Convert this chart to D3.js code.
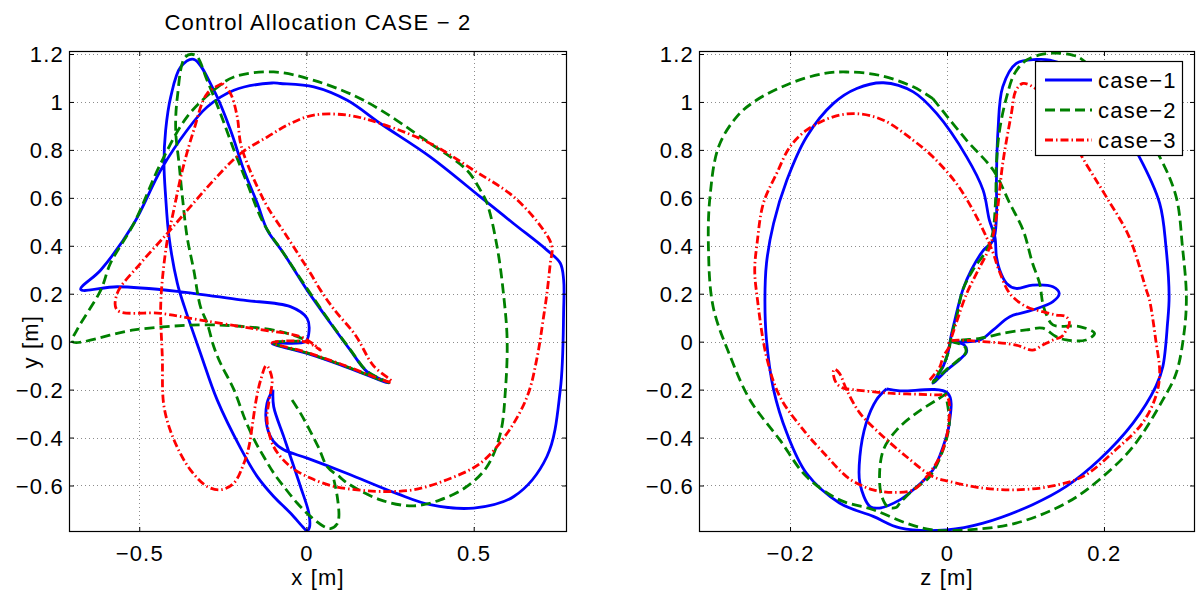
<!DOCTYPE html>
<html><head><meta charset="utf-8">
<script src="https://cdn.jsdelivr.net/npm/d3@7"></script>
<style>
body{margin:0;background:#fff}
text{font-family:"Liberation Sans",Arial,Helvetica,sans-serif;fill:#000;letter-spacing:1.2px}
</style>
</head><body><svg id="c" width="1199" height="596"></svg>
<script>
// ---------- tick values ----------
const yTicks = [-0.6,-0.4,-0.2,0,0.2,0.4,0.6,0.8,1,1.2];
const xTicksLeft = [-0.5,0,0.5];
const zTicksRight = [-0.2,0,0.2];
const seriesNames = ["case\u22121","case\u22122","case\u22123"];

// ---------- left panel: x vs y ----------
const case1XY = [[-0.100,-0.200],[-0.118,-0.257],[-0.118,-0.354],[-0.098,-0.417],[-0.068,-0.451],[0.002,-0.486],[0.122,-0.550],[0.271,-0.634],[0.370,-0.680],[0.500,-0.694],[0.620,-0.646],[0.719,-0.479],[0.759,-0.200],[0.769,0.132],[0.769,0.257],[0.759,0.327],[0.719,0.382],[0.619,0.493],[0.520,0.604],[0.370,0.771],[0.221,0.910],[0.122,1.007],[0.022,1.063],[-0.078,1.077],[-0.103,1.079],[-0.217,1.049],[-0.297,0.979],[-0.357,0.882],[-0.436,0.715],[-0.516,0.493],[-0.615,0.299],[-0.675,0.218],[-0.566,0.229],[-0.386,0.210],[-0.197,0.174],[-0.048,0.146],[0.002,0.097],[0.007,0.035],[-0.003,0.000],[-0.103,-0.007],[0.002,-0.049],[0.102,-0.097],[0.246,-0.173],[0.181,-0.125],[0.131,-0.035],[0.072,0.077],[0.002,0.215],[-0.068,0.368],[-0.117,0.465],[-0.147,0.577],[-0.187,0.715],[-0.227,0.882],[-0.277,1.049],[-0.337,1.178],[-0.376,1.146],[-0.406,1.020],[-0.421,0.882],[-0.426,0.743],[-0.421,0.604],[-0.411,0.438],[-0.386,0.243],[-0.365,0.146],[-0.317,-0.048],[-0.267,-0.243],[-0.197,-0.444],[-0.147,-0.563],[-0.098,-0.646],[-0.048,-0.715],[-0.008,-0.777],[0.002,-0.790],[0.009,-0.775],[0.007,-0.715],[-0.018,-0.604],[-0.048,-0.479],[-0.068,-0.396],[-0.098,-0.271],[-0.100,-0.200]];

const case2XY = [[-0.043,-0.243],[-0.018,-0.298],[0.012,-0.375],[0.037,-0.444],[0.062,-0.521],[0.100,-0.565],[0.122,-0.590],[0.221,-0.660],[0.320,-0.685],[0.400,-0.660],[0.480,-0.604],[0.540,-0.521],[0.580,-0.382],[0.595,-0.200],[0.600,0.007],[0.590,0.188],[0.570,0.396],[0.540,0.577],[0.520,0.632],[0.480,0.715],[0.370,0.827],[0.171,1.007],[0.022,1.090],[-0.098,1.125],[-0.217,1.104],[-0.277,1.049],[-0.357,0.938],[-0.436,0.743],[-0.516,0.493],[-0.586,0.327],[-0.615,0.215],[-0.686,0.049],[-0.700,0.000],[-0.516,0.049],[-0.317,0.070],[-0.187,0.063],[-0.078,0.042],[-0.008,0.007],[-0.103,-0.004],[0.002,-0.047],[0.102,-0.095],[0.246,-0.171],[0.181,-0.123],[0.131,-0.033],[0.072,0.079],[0.005,0.215],[-0.068,0.368],[-0.128,0.493],[-0.177,0.660],[-0.217,0.800],[-0.257,0.951],[-0.297,1.090],[-0.332,1.195],[-0.362,1.188],[-0.386,1.020],[-0.391,0.882],[-0.381,0.743],[-0.371,0.604],[-0.357,0.438],[-0.337,0.299],[-0.317,0.146],[-0.297,0.077],[-0.277,-0.021],[-0.257,-0.090],[-0.217,-0.200],[-0.182,-0.330],[-0.152,-0.420],[-0.128,-0.479],[-0.098,-0.548],[-0.068,-0.604],[-0.028,-0.673],[0.012,-0.729],[0.052,-0.771],[0.072,-0.780],[0.092,-0.760],[0.097,-0.729],[0.092,-0.646],[0.082,-0.576]];

const case3XY = [[-0.252,1.077],[-0.297,1.035],[-0.337,0.882],[-0.371,0.715],[-0.401,0.521],[-0.416,0.424],[-0.431,0.257],[-0.436,0.132],[-0.431,-0.063],[-0.426,-0.270],[-0.396,-0.410],[-0.347,-0.535],[-0.297,-0.604],[-0.257,-0.618],[-0.217,-0.590],[-0.187,-0.507],[-0.172,-0.438],[-0.162,-0.350],[-0.150,-0.240],[-0.137,-0.160],[-0.120,-0.100],[-0.103,-0.153],[-0.113,-0.257],[-0.118,-0.326],[-0.098,-0.438],[-0.048,-0.521],[0.012,-0.569],[0.082,-0.604],[0.152,-0.618],[0.221,-0.625],[0.320,-0.618],[0.420,-0.576],[0.520,-0.507],[0.600,-0.382],[0.660,-0.229],[0.690,-0.063],[0.709,0.104],[0.719,0.201],[0.729,0.327],[0.734,0.396],[0.709,0.465],[0.620,0.604],[0.500,0.715],[0.370,0.827],[0.221,0.910],[0.122,0.945],[0.022,0.945],[-0.048,0.910],[-0.117,0.854],[-0.197,0.785],[-0.277,0.674],[-0.347,0.563],[-0.416,0.452],[-0.496,0.327],[-0.566,0.201],[-0.566,0.132],[-0.436,0.118],[-0.317,0.090],[-0.167,0.056],[-0.018,0.021],[0.020,-0.010],[0.042,-0.035],[0.000,-0.002],[-0.103,-0.004],[0.002,-0.045],[0.102,-0.093],[0.255,-0.168],[0.200,-0.100],[0.146,0.028],[0.085,0.130],[0.042,0.215],[0.012,0.285],[-0.058,0.438],[-0.117,0.563],[-0.147,0.646],[-0.177,0.743],[-0.197,0.827],[-0.207,0.938],[-0.227,1.035],[-0.252,1.077]];

// ---------- right panel: z vs y ----------
const case1ZY = [[-0.077,-0.197],[-0.090,-0.243],[-0.103,-0.340],[-0.111,-0.479],[-0.111,-0.590],[-0.098,-0.688],[-0.086,-0.694],[-0.060,-0.660],[-0.043,-0.618],[-0.018,-0.535],[-0.005,-0.438],[0.003,-0.340],[0.001,-0.215],[-0.060,-0.205],[-0.077,-0.197],
 null,
 [0.003,0.000],[0.022,-0.014],[0.025,-0.042],[0.018,-0.069],[0.000,-0.118],[-0.018,-0.173],[-0.005,-0.104],[0.001,-0.049],[0.005,0.020],[0.010,0.090],[0.020,0.215],[0.031,0.299],[0.046,0.380],[0.059,0.424],[0.063,0.520],[0.063,0.674],[0.065,0.882],[0.071,1.063],[0.088,1.160],[0.114,1.177],[0.131,1.174],[0.170,1.120],[0.215,0.930],[0.245,0.771],[0.271,0.577],[0.279,0.396],[0.283,0.188],[0.281,0.077],[0.275,-0.104],[0.266,-0.188],[0.237,-0.340],[0.194,-0.493],[0.152,-0.604],[0.109,-0.680],[0.046,-0.757],[0.000,-0.785],[-0.060,-0.777],[-0.094,-0.729],[-0.137,-0.673],[-0.179,-0.549],[-0.204,-0.382],[-0.221,-0.200],[-0.230,0.007],[-0.232,0.174],[-0.230,0.327],[-0.221,0.493],[-0.204,0.674],[-0.179,0.854],[-0.145,0.993],[-0.115,1.056],[-0.081,1.080],[-0.043,1.042],[-0.013,0.951],[0.025,0.771],[0.046,0.632],[0.054,0.507],[0.061,0.438],[0.063,0.354],[0.067,0.300],[0.076,0.243],[0.088,0.222],[0.109,0.236],[0.135,0.229],[0.143,0.201],[0.135,0.167],[0.109,0.132],[0.080,0.104],[0.059,0.049],[0.042,0.007],[0.003,0.000]];

const case2ZY = [[-0.018,1.014],[0.025,0.840],[0.059,0.715],[0.080,0.577],[0.097,0.465],[0.109,0.327],[0.118,0.243],[0.122,0.160],[0.126,0.118],[0.135,0.070],[0.169,0.063],[0.188,0.035],[0.177,0.007],[0.152,0.007],[0.139,0.021],[0.122,0.056],[0.101,0.049],[0.076,0.038],[0.042,0.014],[0.008,0.000],[0.022,-0.018],[0.024,-0.045],[0.015,-0.075],[-0.002,-0.120],[-0.018,-0.170],[-0.005,-0.100],[0.002,-0.040],[0.006,0.030],[0.012,0.100],[0.020,0.215],[0.033,0.299],[0.050,0.380],[0.058,0.450],[0.062,0.600],[0.063,0.743],[0.067,0.882],[0.076,1.021],[0.086,1.118],[0.101,1.174],[0.122,1.199],[0.139,1.204],[0.160,1.195],[0.171,1.180],[0.230,0.980],[0.271,0.771],[0.292,0.604],[0.300,0.396],[0.305,0.188],[0.302,0.035],[0.292,-0.132],[0.275,-0.243],[0.237,-0.438],[0.194,-0.576],[0.152,-0.673],[0.088,-0.757],[0.025,-0.785],[-0.018,-0.785],[-0.052,-0.757],[-0.094,-0.701],[-0.137,-0.660],[-0.179,-0.563],[-0.213,-0.410],[-0.251,-0.243],[-0.276,-0.063],[-0.298,0.146],[-0.304,0.396],[-0.302,0.604],[-0.291,0.813],[-0.268,0.938],[-0.243,1.007],[-0.200,1.077],[-0.158,1.118],[-0.128,1.125],[-0.086,1.111],[-0.043,1.063],[-0.018,1.014],
 null,
 [0.000,-0.215],[-0.013,-0.243],[-0.039,-0.298],[-0.064,-0.368],[-0.081,-0.451],[-0.086,-0.563],[-0.083,-0.646],[-0.075,-0.690],[-0.065,-0.692],[-0.060,-0.673],[-0.043,-0.618],[-0.022,-0.563],[-0.005,-0.451],[0.003,-0.340],[0.000,-0.250]];

const case3ZY = [[-0.022,-0.160],[-0.009,-0.104],[-0.005,-0.063],[0.003,-0.020],[0.003,0.000],[0.046,0.000],[0.088,-0.014],[0.109,-0.035],[0.122,-0.014],[0.135,0.007],[0.146,0.021],[0.152,0.049],[0.156,0.077],[0.152,0.104],[0.139,0.111],[0.122,0.125],[0.101,0.146],[0.080,0.201],[0.066,0.300],[0.059,0.368],[0.050,0.438],[0.033,0.549],[0.012,0.660],[-0.018,0.771],[-0.043,0.840],[-0.081,0.924],[-0.115,0.951],[-0.145,0.938],[-0.179,0.882],[-0.200,0.813],[-0.217,0.702],[-0.234,0.577],[-0.242,0.410],[-0.245,0.299],[-0.242,0.188],[-0.230,-0.063],[-0.213,-0.229],[-0.183,-0.368],[-0.153,-0.479],[-0.128,-0.563],[-0.111,-0.597],[-0.094,-0.618],[-0.069,-0.629],[-0.043,-0.618],[-0.026,-0.563],[-0.009,-0.479],[0.001,-0.368],[0.000,-0.229],[-0.018,-0.222],[-0.073,-0.215],[-0.120,-0.200],[-0.132,-0.194],[-0.141,-0.173],[-0.145,-0.125],[-0.143,-0.115],[-0.137,-0.132],[-0.128,-0.200],[-0.111,-0.298],[-0.086,-0.382],[-0.052,-0.479],[-0.018,-0.563],[0.003,-0.583],[0.046,-0.611],[0.088,-0.618],[0.131,-0.604],[0.173,-0.563],[0.215,-0.451],[0.249,-0.340],[0.266,-0.229],[0.271,-0.132],[0.266,0.007],[0.258,0.174],[0.254,0.215],[0.232,0.438],[0.203,0.604],[0.177,0.743],[0.140,0.950],[0.115,1.050],[0.097,1.077],[0.088,1.049],[0.082,0.951],[0.071,0.743],[0.063,0.521],[0.055,0.400],[0.040,0.300],[0.025,0.200],[0.012,0.080],[0.005,0.010]];

// ---------- drawing ----------
const svg = d3.select('#c');
const FS = 22;
const styles = [
  {color:'#0000ff', dash:null},
  {color:'#008000', dash:'10,5'},
  {color:'#ff0000', dash:'8,3,1.5,3'}
];
const fmt = v => { const s = String(+Math.abs(v).toFixed(2)); return v < 0 ? '\u2212' + s : s; };
const yTop = 51, yBot = 532;
const y = d3.scaleLinear().domain([-0.794, 1.2125]).range([yBot, yTop]);

const panels = [
  {x0:69, x1:567, dom:[-0.71,0.779], ticks:xTicksLeft, xlab:'x [m]', data:[case1XY,case2XY,case3XY], ylab:'y [m]', title:'Control Allocation CASE \u2212 2'},
  {x0:699, x1:1195, dom:[-0.316,0.316], ticks:zTicksRight, xlab:'z [m]', data:[case1ZY,case2ZY,case3ZY]}
];

panels.forEach((p, pi) => {
  const x = d3.scaleLinear().domain(p.dom).range([p.x0, p.x1]);
  const g = svg.append('g');
  // grid
  const grid = g.append('g').attr('stroke','#8c8c8c').attr('stroke-width',1).attr('stroke-dasharray','1,3');
  p.ticks.forEach(t => grid.append('line').attr('x1',Math.round(x(t))+0.5).attr('x2',Math.round(x(t))+0.5).attr('y1',yTop).attr('y2',yBot));
  yTicks.forEach(t => grid.append('line').attr('y1',Math.round(y(t))+0.5).attr('y2',Math.round(y(t))+0.5).attr('x1',p.x0).attr('x2',p.x1));
  // clip
  const cid = 'clip' + pi;
  svg.append('clipPath').attr('id',cid).append('rect').attr('x',p.x0).attr('y',yTop).attr('width',p.x1-p.x0).attr('height',yBot-yTop);
  const line = d3.line().defined(d => d != null).x(d => x(d[0])).y(d => y(d[1])).curve(d3.curveCatmullRom.alpha(0.5));
  const lg = g.append('g').attr('clip-path','url(#'+cid+')');
  p.data.forEach((d, i) => {
    lg.append('path').attr('d', line(d)).attr('fill','none')
      .attr('stroke', styles[i].color).attr('stroke-width', 2.8)
      .attr('stroke-dasharray', styles[i].dash).attr('stroke-linejoin','round');
  });
  // axes
  const ax = d3.axisBottom(x).tickValues(p.ticks).tickFormat(fmt).tickSizeInner(-5).tickSizeOuter(0).tickPadding(13);
  const axB = g.append('g').attr('transform',`translate(0,${yBot})`).call(ax);
  const axT = g.append('g').attr('transform',`translate(0,${yTop})`).call(d3.axisTop(x).tickValues(p.ticks).tickFormat('').tickSizeInner(-5).tickSizeOuter(0));
  const ayL = g.append('g').attr('transform',`translate(${p.x0},0)`).call(d3.axisLeft(y).tickValues(yTicks).tickFormat(fmt).tickSizeInner(-5).tickSizeOuter(0).tickPadding(5));
  const ayR = g.append('g').attr('transform',`translate(${p.x1},0)`).call(d3.axisRight(y).tickValues(yTicks).tickFormat('').tickSizeInner(-5).tickSizeOuter(0));
  [axB,axT,ayL,ayR].forEach(a => {
    a.select('.domain').remove();
    a.selectAll('line').attr('stroke','#000');
    a.selectAll('text').attr('font-size',FS).attr('font-family','"Liberation Sans",Arial,sans-serif').attr('fill','#000');
  });
  ayL.selectAll('text').attr('dy','0.36em');
  // box
  g.append('rect').attr('x',p.x0+0.5).attr('y',yTop+0.5).attr('width',p.x1-p.x0-1).attr('height',yBot-yTop-1)
    .attr('fill','none').attr('stroke','#000').attr('stroke-width',1.2);
  // labels
  g.append('text').attr('x',(p.x0+p.x1)/2).attr('y',585).attr('text-anchor','middle').attr('font-size',FS).text(p.xlab);
  if (p.ylab) g.append('text').attr('transform',`translate(38,${y(0)}) rotate(-90)`).attr('text-anchor','middle').attr('font-size',FS).text(p.ylab);
  if (p.title) g.append('text').attr('x',(p.x0+p.x1)/2).attr('y',30).attr('text-anchor','middle').attr('font-size',FS).text(p.title);

  if (pi === 1) {
    const lgd = svg.append('g');
    lgd.append('rect').attr('x',1035.5).attr('y',61.5).attr('width',147).attr('height',94).attr('fill','#fff').attr('stroke','#000').attr('stroke-width',1.2);
    seriesNames.forEach((n, i) => {
      const yy = 80 + i * 30;
      lgd.append('line').attr('x1',1045).attr('x2',1092).attr('y1',yy).attr('y2',yy)
        .attr('stroke',styles[i].color).attr('stroke-width',2.8).attr('stroke-dasharray',styles[i].dash);
      lgd.append('text').attr('x',1098).attr('y',yy).attr('dy','0.36em').attr('font-size',FS).text(n);
    });
  }
});
</script>
</body></html>
